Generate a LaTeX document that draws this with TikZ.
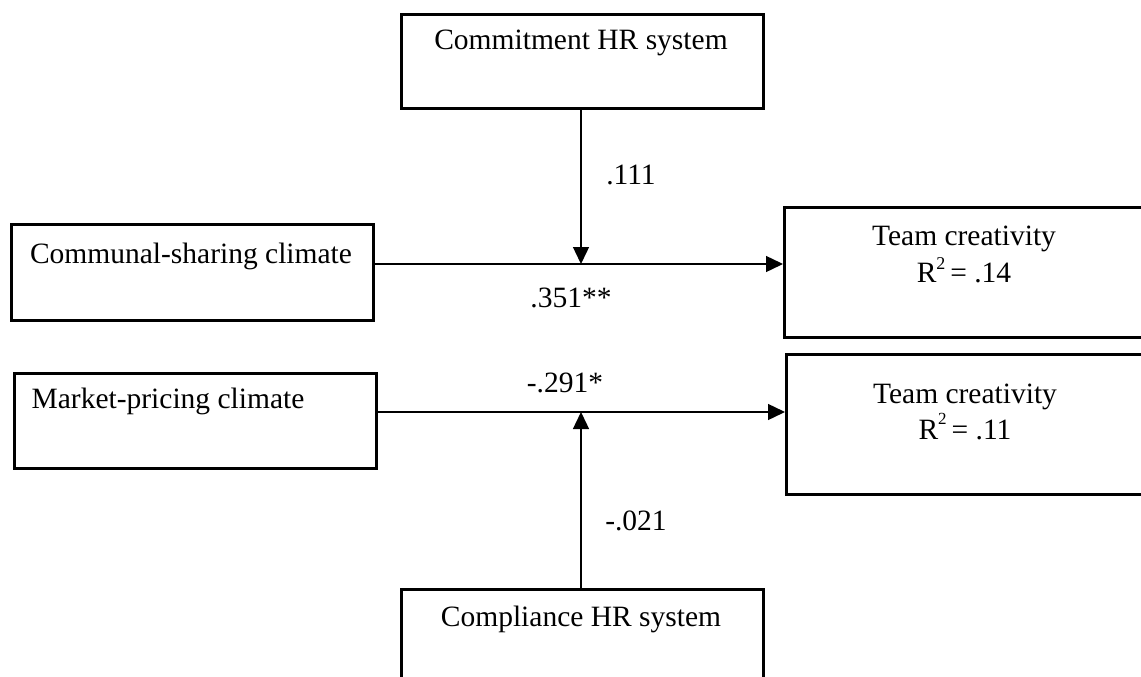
\documentclass[tikz,border=0pt]{standalone}
\usepackage{fontspec}
\setmainfont{Liberation Serif}
\usetikzlibrary{arrows.meta}
\begin{document}
\begin{tikzpicture}[x=1pt,y=-1pt,
  box/.style={draw, line width=2.8pt, rectangle, inner sep=0pt, anchor=north west},
  txt/.style={anchor=base, inner sep=0pt, font=\fontsize{29.5}{34}\selectfont},
  conn/.style={line width=1.4pt, -{Triangle[length=17pt,width=16pt]}}]
\useasboundingbox (0,0) rectangle (1141,677);
\clip (0,0) rectangle (1141,677);
\fill[white] (0,0) rectangle (1141,677);
% boxes
\node[box, minimum width=362pt, minimum height=94pt] (com) at (400,13) {};
\node[box, minimum width=362pt, minimum height=96pt] (cs) at (10,223) {};
\node[box, minimum width=370pt, minimum height=130pt] (tc1) at (783,206) {};
\node[box, minimum width=362pt, minimum height=95pt] (mp) at (13,372) {};
\node[box, minimum width=370pt, minimum height=140pt] (tc2) at (785,353) {};
\node[box, minimum width=362pt, minimum height=110pt] (cp) at (400,588) {};
% texts
\node[txt] (comt) at (581,50) {Commitment HR system};
\node[txt] (cst) at (191,263) {Communal-sharing climate};
\node[txt] (tc1a) at (964,245) {Team creativity};
\node[txt] (tc1b) at (964,282) {R\raisebox{0.42em}{\fontsize{18}{18}\selectfont 2}\,= .14};
\node[txt] (mpt) at (168,408) {Market-pricing climate};
\node[txt] (tc2a) at (965,403) {Team creativity};
\node[txt] (tc2b) at (965,439) {R\raisebox{0.5em}{\fontsize{17}{17}\selectfont 2}\,= .11};
\node[txt] (cpt) at (581,626) {Compliance HR system};
% coefficient labels
\node[txt] (l1) at (631,184) {.111};
\node[txt] (l2) at (571,307) {.351**};
\node[txt] (l3) at (565,392) {-.291*};
\node[txt] (l4) at (636,530) {-.021};
% connectors
\coordinate (m1) at (581,264);
\coordinate (m2) at (581,412);
\draw[conn] (cs.east |- m1) -- (tc1.west |- m1);
\draw[conn] (com.south -| m1) -- (m1);
\draw[conn] (mp.east |- m2) -- (tc2.west |- m2);
\draw[conn] (cp.north -| m2) -- (m2);
\end{tikzpicture}
\end{document}
